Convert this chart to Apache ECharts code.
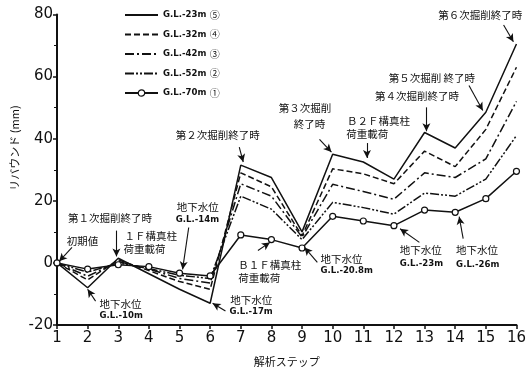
<!DOCTYPE html>
<html>
<head>
<meta charset="utf-8">
<script src="https://cdn.jsdelivr.net/npm/echarts@6/dist/echarts.min.js"></script>
<style>
  html, body { margin: 0; padding: 0; background: #fff; }
  #chart { width: 529px; height: 372px; }
</style>
</head>
<body>
<div id="chart"></div>
<script>
// Analysis steps 1..16
const steps = [1, 2, 3, 4, 5, 6, 7, 8, 9, 10, 11, 12, 13, 14, 15, 16];

// Rebound (mm) at each depth
const gl23 = [0, -8, 1.5, -3.5, -8.5, -13, 31.5, 27.5, 10, 35, 32.5, 27, 42, 37, 48.5, 70.5];
const gl32 = [0, -5.5, 1, -2.5, -6, -8.5, 29, 24.5, 8.7, 30.3, 28.7, 25.5, 36, 31, 43, 63];
const gl42 = [0, -4.3, 0.5, -2, -5, -6.5, 25.5, 21.5, 8.3, 25.3, 23, 20.5, 29, 27.5, 33.5, 52];
const gl52 = [0, -3, 0, -1.8, -4, -5, 21.5, 17.3, 7.5, 19.5, 17.8, 15.7, 22.5, 21.5, 27, 41];
const gl70 = [0, -2, -0.6, -1.2, -3.3, -4.2, 9, 7.5, 4.8, 15, 13.5, 12, 17, 16.3, 20.7, 29.5];

const depthLabels = ['G.L.-23m', 'G.L.-32m', 'G.L.-42m', 'G.L.-52m', 'G.L.-70m'];
const depthMarks = ['⑤', '④', '③', '②', '①'];
const seriesNames = depthLabels.map((d, i) => d + ' ' + depthMarks[i]);
const yTicks = [-20, 0, 20, 40, 60, 80];

// Text notes, anchored in data units [step, mm] (left edge, vertical middle)
const notes = [
  ['初期値', 1.32, 6.9],
  ['第１次掘削終了時', 1.36, 14.6],
  ['１Ｆ構真柱', 3.2, 8.8],
  ['荷重載荷', 3.17, 4.6],
  ['地下水位', 4.91, 18.1],
  ['G.L.-14m', 4.88, 13.9, 'gl'],
  ['第２次掘削終了時', 4.88, 41.1],
  ['第３次掘削', 8.24, 49.8],
  ['終了時', 8.73, 44.6],
  ['Ｂ２Ｆ構真柱', 10.47, 45.6],
  ['荷重載荷', 10.44, 41.4],
  ['第４次掘削終了時', 11.38, 53.6],
  ['第５次掘削 終了時', 11.83, 59.7],
  ['第６次掘削終了時', 13.45, 79.8],
  ['地下水位', 9.6, 1.4],
  ['G.L.-20.8m', 9.6, -2.4, 'gl'],
  ['地下水位', 12.19, 4.0],
  ['G.L.-23m', 12.19, -0.2, 'gl'],
  ['地下水位', 14.03, 4.3],
  ['G.L.-26m', 14.03, -0.5, 'gl'],
  ['Ｂ１Ｆ構真柱', 6.92, -0.8],
  ['荷重載荷', 6.92, -5.0],
  ['地下水位', 6.66, -12.0],
  ['G.L.-17m', 6.63, -15.8, 'gl'],
  ['地下水位', 2.39, -13.3],
  ['G.L.-10m', 2.39, -17.1, 'gl']
];

// Pointer arrows [fromStep, fromMm, toStep, toMm]
const pointers = [
  [1.49, 5.0, 1.07, 0.5],
  [2.94, 10.4, 2.94, 2.1],
  [5.3, 11.4, 5.1, -2.1],
  [6.95, 37.3, 7.08, 32.5],
  [9.57, 39.8, 9.96, 35.7],
  [11.12, 38.6, 11.12, 33.8],
  [13.06, 50.1, 13.06, 42.4],
  [14.45, 57.1, 14.9, 49.1],
  [15.58, 76.6, 15.9, 71.2],
  [9.5, 0.2, 9.08, 5.0],
  [12.83, 6.6, 12.2, 11.0],
  [14.26, 7.8, 14.13, 14.9],
  [7.56, 4.0, 7.95, 6.6],
  [6.5, -15.5, 6.08, -13.0],
  [2.26, -12.3, 2.0, -8.5]
];

const INK = '#111';
const dashes = ['solid', [6, 3], [9, 3, 2, 3], [9, 2, 2, 2, 2, 2], 'solid'];
const values = [gl23, gl32, gl42, gl52, gl70];

const chart = echarts.init(document.getElementById('chart'), null, { renderer: 'canvas' });

const lineSeries = values.map((vals, i) => ({
  name: seriesNames[i],
  type: 'line',
  data: steps.map((s, k) => [s, vals[k]]),
  showSymbol: i === 4,
  symbol: 'circle',
  symbolSize: 6,
  itemStyle: { color: '#fff', borderColor: INK, borderWidth: 1.2 },
  lineStyle: { color: INK, width: 1.5, type: dashes[i] },
  z: 3,
  silent: true,
  animation: false
}));

const arrowSeries = {
  type: 'line',
  data: [],
  silent: true,
  animation: false,
  markLine: {
    silent: true,
    animation: false,
    symbol: ['none', 'arrow'],
    symbolSize: [6, 8],
    label: { show: false },
    lineStyle: { color: INK, width: 1.1, type: 'solid' },
    data: pointers.map(p => [{ coord: [p[0], p[1]] }, { coord: [p[2], p[3]] }])
  }
};

// Legend entries: only the deepest level carries a marker
const legendData = seriesNames.map((n, i) => (
  i === 4
    ? { name: n, itemStyle: { color: '#fff', borderColor: INK, borderWidth: 1.2 } }
    : { name: n, itemStyle: { opacity: 0 } }
));

chart.setOption({
  animation: false,
  backgroundColor: '#fff',
  grid: { left: 57, right: 8, top: 14.5, bottom: 45, containLabel: false },
  legend: {
    left: 119,
    top: 4,
    orient: 'vertical',
    itemWidth: 33,
    itemHeight: 8,
    itemGap: 7.5,
    selectedMode: false,
    data: legendData,
    formatter: name => {
      const i = seriesNames.indexOf(name);
      return '{d|' + depthLabels[i] + '} {m|' + depthMarks[i] + '}';
    },
    textStyle: {
      color: INK,
      rich: {
        d: { fontFamily: 'DejaVu Sans Condensed, DejaVu Sans', fontWeight: 'bold', fontSize: 9.5, color: INK },
        m: { fontFamily: 'Noto Sans CJK JP', fontSize: 10, color: INK }
      }
    }
  },
  xAxis: {
    type: 'value',
    min: 1,
    max: 16,
    interval: 1,
    name: '解析ステップ',
    nameLocation: 'middle',
    nameGap: 31,
    nameTextStyle: { fontFamily: 'Noto Sans CJK JP', fontSize: 11, color: INK },
    axisLine: { show: true, onZero: false, lineStyle: { color: INK, width: 2 } },
    axisTick: { show: true, inside: false, length: 4, lineStyle: { color: INK, width: 1.5 } },
    axisLabel: { fontFamily: 'DejaVu Sans', fontSize: 15, color: INK, margin: 6 },
    splitLine: { show: false }
  },
  yAxis: {
    type: 'value',
    min: -20,
    max: 80,
    interval: 20,
    axisLine: { show: true, onZero: false, lineStyle: { color: INK, width: 2 } },
    axisTick: { show: true, inside: false, length: 4, lineStyle: { color: INK, width: 1.5 } },
    minorTick: { show: true, splitNumber: 2, length: 3, lineStyle: { color: INK, width: 1 } },
    axisLabel: {
      fontFamily: 'DejaVu Sans', fontSize: 15, color: INK, margin: 4,
      formatter: v => (yTicks.indexOf(v) >= 0 ? String(v) : '')
    },
    splitLine: { show: false }
  },
  series: lineSeries.concat([arrowSeries])
});

// Place the text notes once the axes are laid out
const graphics = notes.map(n => {
  const p = chart.convertToPixel({ gridIndex: 0 }, [n[1], n[2]]);
  const isGL = n[3] === 'gl';
  return {
    type: 'text',
    x: p[0],
    y: p[1],
    silent: true,
    style: {
      text: n[0],
      fill: INK,
      fontFamily: isGL ? 'DejaVu Sans Condensed, DejaVu Sans' : 'Noto Sans CJK JP',
      fontSize: isGL ? 9.5 : 10.5,
      fontWeight: isGL ? 'bold' : 'normal',
      align: 'left',
      verticalAlign: 'middle'
    }
  };
});

// Vertical axis title, set beside the upper half of the scale
const yTitleAt = chart.convertToPixel({ gridIndex: 0 }, [1, 37]);
graphics.push({
  type: 'text',
  x: 15,
  y: yTitleAt[1],
  rotation: Math.PI / 2,
  silent: true,
  style: {
    text: 'リバウンド (mm)',
    fill: INK,
    fontFamily: 'Noto Sans CJK JP',
    fontSize: 11,
    align: 'center',
    verticalAlign: 'middle'
  }
});

chart.setOption({ graphic: graphics });
</script>
</body>
</html>
